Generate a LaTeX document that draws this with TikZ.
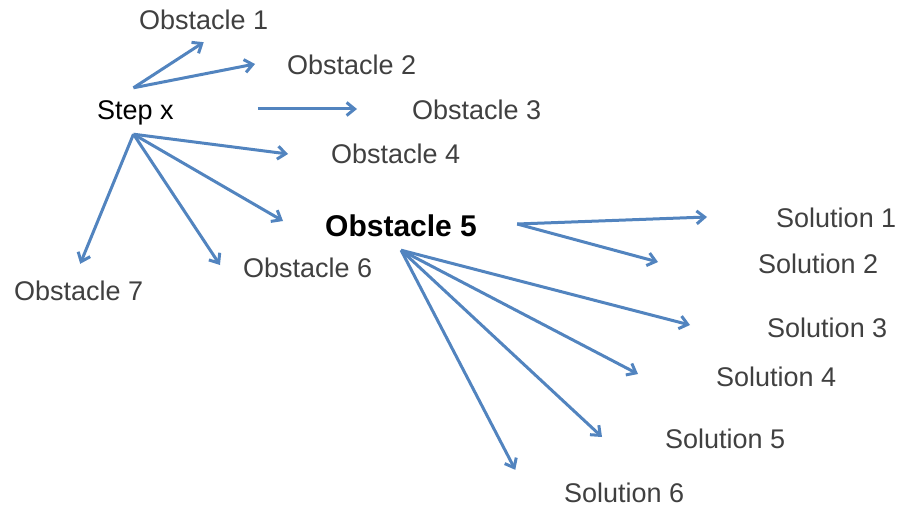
\documentclass[tikz,border=0pt]{standalone}
\usepackage{fontspec}
\setmainfont{Liberation Sans}
\usepackage{xcolor}
\usetikzlibrary{arrows.meta}

\definecolor{arrowblue}{HTML}{5284BF}
\definecolor{labelgray}{HTML}{404040}

\tikzset{
  lbl/.style={inner sep=0, anchor=base west, text height=20pt, text depth=6pt,
    text=labelgray, font=\fontsize{27}{32}\selectfont},
  arr/.style={draw=arrowblue, line width=3pt,
    -{Straight Barb[length=8pt,width=13pt]}}
}

\begin{document}
\begin{tikzpicture}[x=1pt,y=-1pt]
\useasboundingbox (0,0) rectangle (899,508);

% labels
\node[lbl,text=black] (step) at (97,120) {Step x};
\node[lbl] (o1) at (139,30) {Obstacle 1};
\node[lbl] (o2) at (287,75) {Obstacle 2};
\node[lbl] (o3) at (412,120) {Obstacle 3};
\node[lbl] (o4) at (331,163) {Obstacle 4};
\node[lbl,text=black,font=\fontsize{30}{36}\selectfont\bfseries] (o5) at (325,236) {Obstacle 5};
\node[lbl] (o6) at (243,277) {Obstacle 6};
\node[lbl] (o7) at (14,300) {Obstacle 7};

\node[lbl] (s1) at (776,227) {Solution 1};
\node[lbl] (s2) at (758,273) {Solution 2};
\node[lbl] (s3) at (767,337) {Solution 3};
\node[lbl] (s4) at (716,386) {Solution 4};
\node[lbl] (s5) at (665,448) {Solution 5};
\node[lbl] (s6) at (564,502) {Solution 6};

% where the fans start
\coordinate (stepT) at ([xshift=-2pt,yshift=12pt]step.north);
\coordinate (stepB) at ([xshift=-2pt,yshift=-8pt]step.south);
\coordinate (o5R) at ([xshift=40pt,yshift=5pt]o5.east);
\coordinate (o5B) at ([yshift=-8pt]o5.south);

% obstacles of step x
\draw[arr] (stepT) -- ([yshift=-6pt]o1.south);
\draw[arr] (stepT) -- ([xshift=-32pt,yshift=4pt]o2.west);
\draw[arr] ([xshift=84pt,yshift=4pt]step.east) -- ([xshift=-55pt,yshift=4pt]o3.west);
\draw[arr] (stepB) -- ([xshift=-43pt,yshift=2pt]o4.west);
\draw[arr] (stepB) -- ([xshift=-42pt,yshift=8pt]o5.west);
\draw[arr] (stepB) -- ([xshift=-23pt,yshift=5pt]o6.west);
\draw[arr] (stepB) -- ([xshift=1.5pt,yshift=16pt]o7.north);

% solutions of obstacle 5
\draw[arr] (o5R) -- ([xshift=-69pt,yshift=3pt]s1.west);
\draw[arr] (o5R) -- ([xshift=-100pt,yshift=4pt]s2.west);
\draw[arr] (o5B) -- ([xshift=-77pt,yshift=5pt]s3.west);
\draw[arr] (o5B) -- ([xshift=-78pt,yshift=5pt]s4.west);
\draw[arr] (o5B) -- ([xshift=-63pt,yshift=4pt]s5.west);
\draw[arr] (o5B) -- ([xshift=-109pt,yshift=12pt]s6.north);

\end{tikzpicture}
\end{document}
